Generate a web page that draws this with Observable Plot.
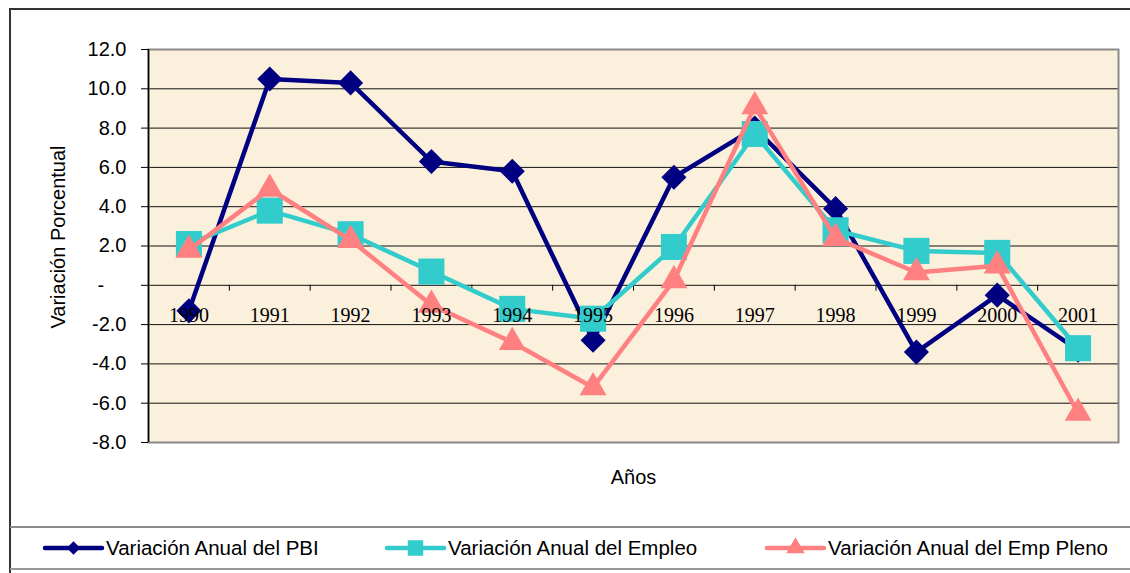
<!DOCTYPE html>
<html>
<head>
<meta charset="utf-8">
<script src="https://cdn.jsdelivr.net/npm/d3@7"></script>
<script src="https://cdn.jsdelivr.net/npm/@observablehq/plot@0.6"></script>
<style>
  html, body { margin: 0; padding: 0; background: #fff; }
  #wrap { position: relative; width: 1130px; height: 573px; overflow: hidden; font-family: "Liberation Sans", Arial, sans-serif; }
  #wrap > svg.plot { position: absolute; left: 0; top: 0; }
  .hl { position: absolute; height: 0; }
  .vl { position: absolute; width: 0; }
  #legend { position: absolute; left: 0; top: 528px; }
</style>
</head>
<body>
<div id="wrap">
  <div class="hl" style="left:10px; top:8px; width:1120px; border-top:2px solid #333;"></div>
  <div class="vl" style="left:9px; top:8px; height:565px; border-left:2px solid #333;"></div>
  <div class="hl" style="left:10px; top:526px; width:1120px; border-top:2px solid #8a8a8a;"></div>
  <div class="hl" style="left:10px; top:568px; width:1120px; border-top:2px solid #9a9a9a;"></div>
</div>
<script>
// ---- Data ----
const years = [1990, 1991, 1992, 1993, 1994, 1995, 1996, 1997, 1998, 1999, 2000, 2001];
const pbi    = [-1.3, 10.5, 10.3, 6.3, 5.8, -2.8, 5.5, 8.0, 3.9, -3.4, -0.5, -3.3];
const empleo = [2.1, 3.8, 2.6, 0.7, -1.2, -1.7, 1.95, 7.7, 2.8, 1.75, 1.65, -3.2];
const pleno  = [1.8, 4.9, 2.3, -1.0, -2.9, -5.2, 0.25, 9.1, 2.4, 0.65, 1.0, -6.5];
const yTicks = [-8, -6, -4, -2, 0, 2, 4, 6, 8, 10, 12];
const seriesNames = ["Variación Anual del PBI", "Variación Anual del Empleo", "Variación Anual del Emp Pleno"];
const colors = ["#000080", "#33CCCC", "#FF8080"];
const symbols = ["diamond2", "square", "triangle"];
const xTitle = "Años";
const yTitle = "Variación Porcentual";

const mk = vals => years.map((y, i) => ({year: y, value: vals[i]}));
const dPbi = mk(pbi), dEmp = mk(empleo), dPle = mk(pleno);
const bounds = years.slice(1).map(y => y - 0.5);
const gridTicks = yTicks.filter(t => t !== -8 && t !== 12);

const plot = Plot.plot({
  width: 1130,
  height: 573,
  marginTop: 49,
  marginLeft: 148,
  marginRight: 12,
  marginBottom: 131,
  style: {fontFamily: "'Liberation Sans', Arial, sans-serif", fontSize: "20px", background: "transparent", overflow: "visible"},
  x: {domain: [years[0] - 0.5, years[years.length - 1] + 0.5], axis: null},
  y: {domain: [-8, 12], axis: null},
  marks: [
    Plot.frame({fill: "#fbf0dc"}),
    Plot.ruleY(gridTicks, {stroke: "#111", strokeWidth: 1}),
    Plot.frame({stroke: "#8a8a8a", strokeWidth: 2}),
    Plot.ruleX([years[0] - 0.5], {stroke: "#000", strokeWidth: 1.5}),
    Plot.ruleX(bounds, {x: d => d, y1: 0, y2: -0.3, stroke: "#000", strokeWidth: 1}),
    Plot.axisY({ticks: yTicks, tickSize: 7, tickPadding: 15, fontSize: 20, label: null,
      tickFormat: d => d === 0 ? "-\u00a0\u00a0\u00a0\u00a0" : d.toFixed(1)}),
    // PBI
    Plot.line(dPbi, {x: "year", y: "value", stroke: colors[0], strokeWidth: 4.5}),
    Plot.dot(dPbi, {x: "year", y: "value", symbol: symbols[0], r: 11.3, fill: colors[0], stroke: "none"}),
    // Empleo
    Plot.line(dEmp, {x: "year", y: "value", stroke: colors[1], strokeWidth: 4.5}),
    Plot.dot(dEmp, {x: "year", y: "value", symbol: symbols[1], r: 14.7, fill: colors[1], stroke: "none"}),
    // Emp Pleno
    Plot.line(dPle, {x: "year", y: "value", stroke: colors[2], strokeWidth: 4.5}),
    Plot.dot(dPle, {x: "year", y: "value", symbol: symbols[2], r: 10, fill: colors[2], stroke: "none"}),
    // category labels (drawn on top, as in the reference)
    Plot.text(years, {x: d => d, y: 0, dy: 30, text: d => String(d),
      fontFamily: "'Liberation Serif', 'Times New Roman', serif", fontSize: 20, fill: "#000"}),
    // titles
    Plot.text([yTitle], {frameAnchor: "left", dx: -90, dy: -9, rotate: -90, text: d => d, fontSize: 20, fill: "#000", textAnchor: "middle", lineAnchor: "middle"}),
    Plot.text([xTitle], {frameAnchor: "bottom", dy: 35, text: d => d, fontSize: 20, fill: "#000", lineAnchor: "middle"})
  ]
});
plot.classList.add("plot");
const wrap = document.getElementById("wrap");
wrap.insertBefore(plot, wrap.firstChild);

// ---- Legend ----
const legendX = [45, 387, 767];
const ns = "http://www.w3.org/2000/svg";
const lg = document.createElementNS(ns, "svg");
lg.setAttribute("id", "legend");
lg.setAttribute("width", 1130);
lg.setAttribute("height", 40);
const sym = {diamond2: d3.symbolDiamond2, square: d3.symbolSquare, triangle: d3.symbolTriangle};
const symSize = {diamond2: 115, square: 240, triangle: 150};
seriesNames.forEach((name, i) => {
  const x0 = legendX[i], cy = 20;
  const ln = document.createElementNS(ns, "line");
  ln.setAttribute("x1", x0); ln.setAttribute("x2", x0 + 57);
  ln.setAttribute("y1", cy); ln.setAttribute("y2", cy);
  ln.setAttribute("stroke", colors[i]); ln.setAttribute("stroke-width", 4.5);
  ln.setAttribute("stroke-linecap", "round");
  lg.appendChild(ln);
  const p = document.createElementNS(ns, "path");
  p.setAttribute("d", d3.symbol(sym[symbols[i]], symSize[symbols[i]])());
  p.setAttribute("transform", `translate(${x0 + 28.5},${cy})`);
  p.setAttribute("fill", colors[i]);
  lg.appendChild(p);
  const t = document.createElementNS(ns, "text");
  t.setAttribute("x", x0 + 61); t.setAttribute("y", cy);
  t.setAttribute("dy", "0.35em");
  t.setAttribute("font-size", 20.5);
  t.setAttribute("font-family", "'Liberation Sans', Arial, sans-serif");
  t.setAttribute("fill", "#000");
  t.textContent = name;
  lg.appendChild(t);
});
wrap.appendChild(lg);
</script>
</body>
</html>
